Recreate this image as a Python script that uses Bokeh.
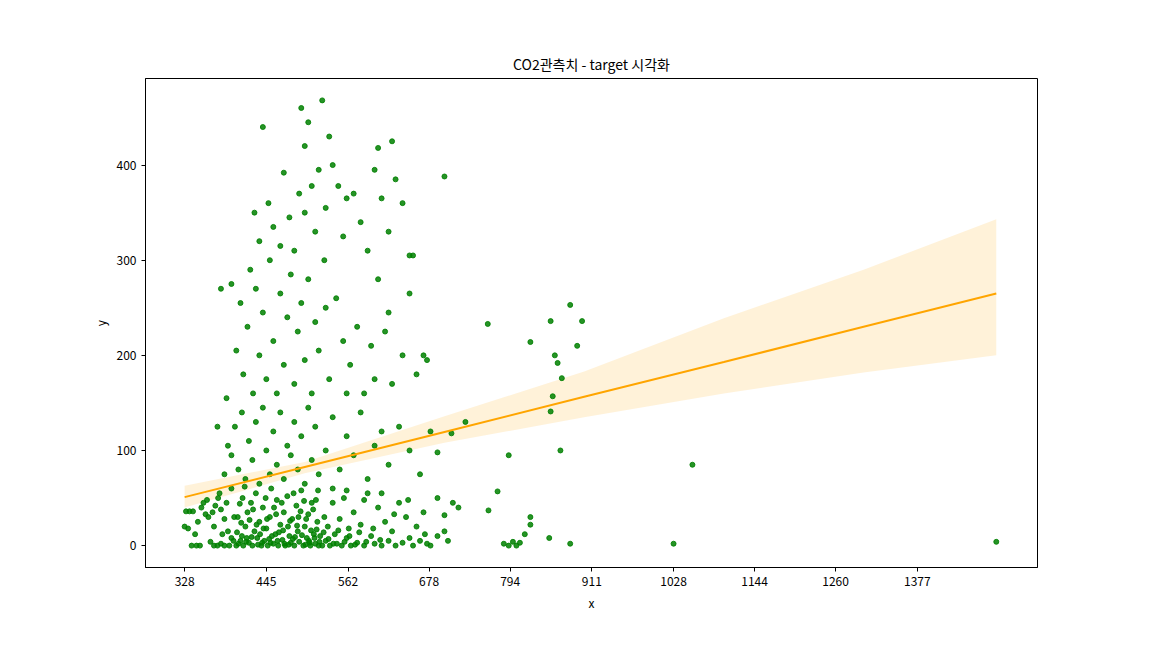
from bokeh.plotting import figure
from bokeh.models import FixedTicker
from bokeh.embed import file_html
from bokeh.resources import INLINE

FONT = "Noto Sans CJK KR"

tick_vals = [328, 445, 562, 678, 794, 911, 1028, 1144, 1260, 1377]

points = [
    (330,36),(335,36),(340,36),(328,20),(333,18),(345,0),(350,0),(338,0),(355,45),(352,40),(358,33),(362,30),(360,48),(365,4),(370,0),(343,12),(347,25),
    (368,35),(372,42),(376,50),(380,38),(385,28),(390,15),(395,8),(380,2),(375,0),(385,0),(392,0),(398,5),(378,55),(388,45),(395,60),(399,30),(370,20),(382,12),
    (402,0),(405,2),(408,5),(410,10),(412,0),(415,20),(418,35),(420,3),(423,45),(425,0),(428,15),(430,55),(432,8),(435,25),(438,0),(440,40),(442,5),(445,18),(447,0),(450,30),(452,60),(455,2),(458,12),(460,48),(462,0),(465,22),(468,6),(470,35),(472,0),(475,52),(478,10),(480,3),(482,28),(485,0),(488,42),(490,15),(492,4),(495,58),(498,0),(500,20),(503,8),(505,33),(508,0),(510,45),(513,12),(515,2),(518,25),(520,0),
    (404,30),(411,50),(417,8),(426,38),(433,1),(441,18),(449,7),(456,40),(463,14),(471,2),(479,26),(486,9),(494,36),(501,1),(509,16),(516,48),(407,44),(414,62),(421,27),(436,12),(444,50),(451,3),(459,33),(467,45),(476,20),(484,55),(491,30),(499,47),(506,5),(512,38),(519,58),
    (403,14),(409,24),(416,4),(424,9),(431,22),(439,3),(446,28),(453,10),(461,5),(469,16),(477,1),(483,7),(489,21),(496,11),(502,28),(507,3),(514,8),(517,17),(521,4),(527,14),(534,7),(541,2),(548,16),(557,4),(564,10),(572,1),(578,14),(588,4),(598,18),(608,6),
    (522,10),(525,0),(528,30),(530,5),(533,20),(536,0),(540,45),(543,12),(546,2),(550,28),(553,0),(556,50),(560,8),(563,18),(566,0),(570,35),(575,3),(580,22),(585,0),(590,55),(595,10),(600,2),(605,40),(610,0),(615,25),(620,5),(625,15),(630,0),(635,45),(640,3),(645,30),(650,8),(655,0),(660,20),(665,5),(670,35),(675,2),(680,0),(690,10),(700,15),(705,5),(712,45),(720,40),(700,32),(690,50),(540,60),(560,58),(585,48),(610,55),(628,33),(648,48),(672,12),
    (385,75),(390,105),(395,95),(400,125),(405,80),(410,140),(415,70),(420,110),(425,90),(430,130),(435,65),(440,145),(445,100),(450,75),(455,120),(460,85),(465,140),(470,70),(475,105),(480,95),(485,130),(490,80),(495,115),(500,65),(505,145),(510,90),(515,125),(520,75),(530,100),(540,135),(550,80),(560,115),(570,95),(580,140),(590,70),(600,105),(610,120),(620,85),(635,125),(650,100),(665,75),(680,120),(690,98),(710,118),(730,130),(375,125),(388,155),
    (402,205),(408,255),(412,180),(418,230),(422,290),(426,160),(430,270),(435,200),(440,245),(445,175),(450,300),(455,215),(460,160),(465,265),(470,190),(475,240),(480,285),(485,170),(490,225),(495,255),(500,195),(505,280),(510,160),(515,235),(520,205),(528,300),(535,175),(545,260),(555,215),(565,190),(575,230),(585,160),(595,210),(605,280),(615,225),(625,170),(640,200),(650,265),(660,180),(670,200),(675,195),(530,250),(560,160),(600,175),(620,245),(655,305),(395,275),(380,270),
    (440,440),(428,350),(435,320),(448,360),(455,335),(470,392),(478,345),(485,310),(492,370),(495,460),(500,420),(505,445),(510,378),(515,330),(520,395),(525,468),(530,355),(535,430),(540,400),(548,378),(555,325),(560,365),(570,370),(580,340),(590,310),(600,395),(605,418),(610,365),(620,330),(625,425),(630,385),(640,360),(650,305),(700,388),(465,315),(500,350),
    (1490,4),(1028,2),(1055,85),(762,233),(792,95),(776,57),(763,37),(785,2),(792,0),(798,4),(803,0),(808,3),(815,12),(823,214),(823,30),(823,22),
    (852,236),(858,200),(862,192),(868,176),(855,157),(852,141),(866,100),(850,8),(880,253),(890,210),(897,236),(880,2),
]
xs = [p[0] for p in points]
ys = [p[1] for p in points]

fit_x = [328, 500, 700, 900, 1100, 1300, 1490]
fit_y = [51, 82.7, 119.5, 156.4, 193, 230, 265]
ci_low = [40, 76, 108, 135, 160, 182, 200]
ci_high = [63, 88, 136, 183, 239, 290, 343]

p = figure(width=1136, height=632, x_range=(272, 1549), y_range=(-23, 491),
           output_backend="svg", toolbar_location=None,
           title="CO2관측치 - target 시각화",
           min_border_left=145, min_border_right=99, min_border_top=78, min_border_bottom=65)
p.title.align = "center"
p.title.text_font = FONT
p.title.text_font_size = "14px"
p.title.text_font_style = "normal"
p.title.text_color = "black"

p.xgrid.visible = False
p.ygrid.visible = False
p.outline_line_color = "black"

p.xaxis.ticker = FixedTicker(ticks=tick_vals)
p.yaxis.ticker = FixedTicker(ticks=[0, 100, 200, 300, 400])
p.xaxis.axis_label = "x"
p.yaxis.axis_label = "y"
for ax in (p.xaxis, p.yaxis):
    ax.axis_label_text_font = FONT
    ax.axis_label_text_font_style = "normal"
    ax.axis_label_text_font_size = "12px"
    ax.axis_label_text_color = "black"
    ax.major_label_text_font = FONT
    ax.major_label_text_font_size = "12px"
    ax.major_label_text_color = "black"
    ax.minor_tick_line_color = None
    ax.major_tick_out = 4
    ax.major_tick_in = 0
    ax.axis_line_color = "black"
    ax.major_tick_line_color = "black"

p.varea(x=fit_x, y1=ci_low, y2=ci_high, fill_color="#FFA500", fill_alpha=0.15)
p.scatter(xs, ys, size=5, fill_color="green", line_color="green", alpha=0.85)
p.line(fit_x, fit_y, line_color="#FFA500", line_width=2)

open("out.html", "w").write(file_html(p, INLINE))
